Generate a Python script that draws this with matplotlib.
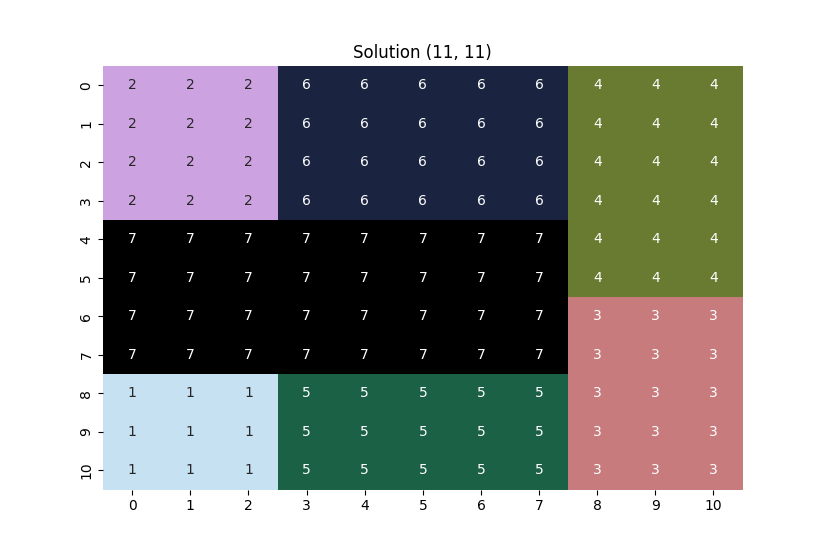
import matplotlib
matplotlib.use("Agg")
import matplotlib.pyplot as plt
import seaborn as sns
import numpy as np

row_top = [2, 2, 2, 6, 6, 6, 6, 6, 4, 4, 4]
row_mid_a = [7, 7, 7, 7, 7, 7, 7, 7, 4, 4, 4]
row_mid_b = [7, 7, 7, 7, 7, 7, 7, 7, 3, 3, 3]
row_bottom = [1, 1, 1, 5, 5, 5, 5, 5, 3, 3, 3]

grid = np.array([row_top] * 4 + [row_mid_a] * 2 + [row_mid_b] * 2 + [row_bottom] * 3)

fig = plt.figure(figsize=(8.25, 5.5), dpi=100)
ax = fig.add_subplot(111)
sns.heatmap(grid, annot=True, cbar=False, cmap="cubehelix_r", vmin=0, vmax=7, ax=ax)
ax.set_title("Solution (11, 11)")
plt.savefig("out.png")
